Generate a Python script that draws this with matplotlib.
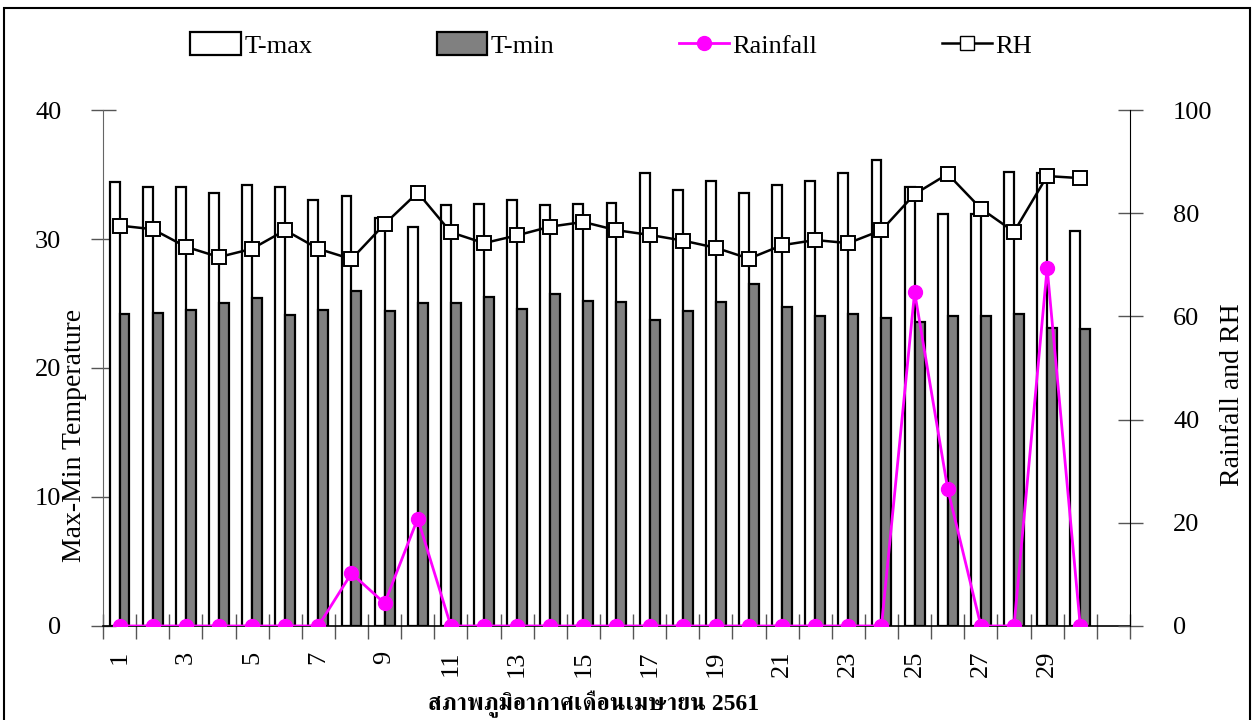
import matplotlib
matplotlib.use("Agg")
import matplotlib.pyplot as plt
import numpy as np
from matplotlib import font_manager
from matplotlib.ft2font import FT2Font
from matplotlib.patches import Patch, Rectangle
from matplotlib.lines import Line2D

days = list(range(1, 31))
t_max = [34.4, 34.0, 34.0, 33.6, 34.2, 34.0, 33.0, 33.3, 31.6, 30.9,
         32.6, 32.7, 33.0, 32.6, 32.7, 32.8, 35.1, 33.8, 34.5, 33.6,
         34.2, 34.5, 35.1, 36.1, 34.0, 31.9, 31.9, 35.2, 35.1, 30.6]
t_min = [24.2, 24.3, 24.5, 25.0, 25.4, 24.1, 24.5, 26.0, 24.4, 25.0,
         25.0, 25.5, 24.6, 25.7, 25.2, 25.1, 23.7, 24.4, 25.1, 26.5,
         24.7, 24.0, 24.2, 23.9, 23.6, 24.0, 24.0, 24.2, 23.1, 23.0]
rainfall = [0, 0, 0, 0, 0, 0, 0, 10.2, 4.4, 20.8,
            0, 0, 0, 0, 0, 0, 0, 0, 0, 0,
            0, 0, 0, 0, 64.7, 26.5, 0, 0, 69.4, 0]
rh = [77.6, 76.9, 73.5, 71.5, 73.1, 76.7, 73.1, 71.1, 77.9, 84.0,
      76.3, 74.2, 75.7, 77.4, 78.3, 76.7, 75.8, 74.7, 73.3, 71.2,
      73.8, 74.8, 74.2, 76.7, 83.7, 87.6, 80.9, 76.4, 87.2, 86.8]
x_labels = [str(d) for d in range(1, 30, 2)]
title = "สภาพภูมิอากาศเดือนเมษายน 2561"


def thai_family():
    # find an installed font that has Thai glyphs, serif preferred
    found = []
    for f in font_manager.fontManager.ttflist:
        try:
            cmap = FT2Font(f.fname).get_charmap()
        except Exception:
            continue
        if 0x0E2A in cmap and 0x0E20 in cmap:
            found.append(f.name)
    if not found:
        return None
    for name in found:
        if "Serif" in name:
            return name
    return found[0]


plt.rcParams["font.family"] = ["Liberation Serif", "DejaVu Serif"]
plt.rcParams["font.size"] = 19

fig = plt.figure(figsize=(12.53, 7.2), dpi=100)
ax = fig.add_axes([0.0822, 0.1306, 0.8196, 0.7166])
ax2 = ax.twinx()

x = np.array(days)
ax.bar(x - 0.15, t_max, width=0.3, color="white", edgecolor="black", linewidth=1.6, zorder=2)
ax.bar(x + 0.15, t_min, width=0.3, color="#808080", edgecolor="black", linewidth=1.6, zorder=2)

ax2.plot(x, rh, color="black", lw=1.8, marker="s", markersize=10,
         markerfacecolor="white", markeredgecolor="black", markeredgewidth=1.4, zorder=3)
ax2.plot(x, rainfall, color="#ff00ff", lw=2, marker="o", markersize=10,
         markerfacecolor="#ff00ff", markeredgecolor="#ff00ff", zorder=4)

ax.set_xlim(0.5, 31.5)
ax.set_ylim(0, 40)
ax2.set_ylim(0, 100)
ax.set_yticks([0, 10, 20, 30, 40])
ax2.set_yticks([0, 20, 40, 60, 80, 100])

ax.set_xticks(range(1, 30, 2))
ax.set_xticklabels(x_labels, rotation=90)
ax.set_xticks(np.arange(0.5, 32, 1), minor=True)
ax.tick_params(axis="x", which="major", length=0, pad=18, labelsize=19)
ax.tick_params(axis="x", which="minor", direction="inout", length=18, width=1, color="#555555")
ax.tick_params(axis="y", direction="inout", length=18, width=1, color="#555555", pad=21, labelsize=19)
ax2.tick_params(axis="y", direction="inout", length=18, width=1, color="#555555", pad=22, labelsize=19)

for a in (ax, ax2):
    a.spines["top"].set_visible(False)
ax.spines["right"].set_visible(False)
ax2.spines["left"].set_visible(False)
ax2.spines["bottom"].set_visible(False)
ax.spines["left"].set_color("#666666")
ax.spines["bottom"].set_color("black")
ax.spines["bottom"].set_linewidth(1.2)
ax2.spines["right"].set_color("black")

ax.set_ylabel("Max-Min Temperature", fontsize=20)
ax.yaxis.set_label_coords(-0.016, 0.37)
ax2.set_ylabel("Rainfall and RH", fontsize=20)
ax2.yaxis.set_label_coords(1.0876, 0.448)

thai = thai_family()
fam = ["Liberation Serif"] + ([thai] if thai else []) + ["DejaVu Sans"]
fig.text(0.474, 0.022, title, ha="center", va="center", fontsize=17,
         fontweight="bold", family=fam)

handles = [
    Patch(facecolor="white", edgecolor="black", linewidth=1.6),
    Patch(facecolor="#808080", edgecolor="black", linewidth=1.6),
    Line2D([], [], color="#ff00ff", lw=2, marker="o", markersize=10,
           markerfacecolor="#ff00ff", markeredgecolor="#ff00ff"),
    Line2D([], [], color="black", lw=1.8, marker="s", markersize=10,
           markerfacecolor="white", markeredgecolor="black"),
]
fig.legend(handles, ["T-max", "T-min", "Rainfall", "RH"], loc="center",
           bbox_to_anchor=(0.488, 0.9375), ncol=4, frameon=False, fontsize=19,
           handlelength=1.9, handleheight=0.95, handletextpad=0.15,
           columnspacing=4.7)

fig.patches.append(Rectangle((4 / 1253, -0.01), 1246 / 1253, 712 / 720 + 0.01,
                             transform=fig.transFigure, fill=False,
                             edgecolor="black", linewidth=1.5))

plt.savefig("out.png", dpi=100)
